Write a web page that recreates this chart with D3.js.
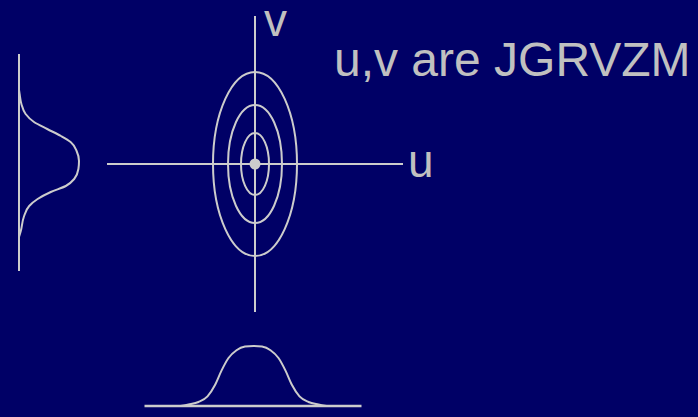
<!DOCTYPE html>
<html>
<head>
<meta charset="utf-8">
<script src="https://cdn.jsdelivr.net/npm/d3@7"></script>
<style>
  html, body { margin: 0; padding: 0; background: #000066; }
  svg { display: block; }
</style>
</head>
<body>
<div id="chart"></div>
<script>
// contour ellipses of the joint density (semi-axes, in u/v units)
var contourU = [1.4, 2.7, 4.2];
var contourV = [3.1, 5.9, 9.2];

// marginal density of u (bottom)
var uGrid = [-7.3, -6.5, -5.5, -4.6, -3.85, -3.2, -2.5, -1.7, -0.85, 0,
             0.85, 1.7, 2.5, 3.2, 3.85, 4.6, 5.5, 6.5, 7.3];
var uDens = [0, 0.025, 0.067, 0.16, 0.35, 0.59, 0.8, 0.93, 0.99, 1,
             0.99, 0.93, 0.8, 0.59, 0.35, 0.16, 0.067, 0.025, 0];

// marginal density of v (left)
var vGrid = [7.2, 6.8, 5.8, 4.8, 4.0, 3.3, 2.6, 2.0, 1.1, 0.1,
             -0.7, -1.7, -2.4, -3.0, -3.7, -4.4, -5.5, -6.9, -7.5];
var vDens = [0, 0.01, 0.04, 0.11, 0.25, 0.47, 0.7, 0.86, 0.96, 1,
             0.99, 0.92, 0.78, 0.53, 0.31, 0.17, 0.08, 0.03, 0];

var axisExtent = [-14.8, 14.8];
var margExtent = [-10.9, 10.8];

var title = "u,v are JGRVZM";
var labelU = "u", labelV = "v";

var width = 698, height = 417;
var ink = "#cccccc", textInk = "#c0c0c0";
var font = "'Liberation Sans', Arial, sans-serif";

var svg = d3.select("#chart")
  .append("svg")
    .attr("width", width)
    .attr("height", height);

svg.append("rect")
  .attr("width", width).attr("height", height)
  .attr("fill", "#000066");

// joint plot scales, 10px per unit
var x = d3.scaleLinear().domain([-1, 1]).range([255 - 10, 255 + 10]);
var y = d3.scaleLinear().domain([-1, 1]).range([164 + 10, 164 - 10]);

// axes
svg.append("line")
  .attr("x1", x(axisExtent[0])).attr("x2", x(axisExtent[1]))
  .attr("y1", y(0)).attr("y2", y(0))
  .attr("stroke", ink).attr("stroke-width", 2);
svg.append("line")
  .attr("x1", x(0)).attr("x2", x(0))
  .attr("y1", y(axisExtent[1])).attr("y2", y(axisExtent[0]))
  .attr("stroke", ink).attr("stroke-width", 2);

// contour ellipses
svg.selectAll("ellipse")
  .data(d3.range(contourU.length))
  .enter()
  .append("ellipse")
    .attr("cx", x(0))
    .attr("cy", y(0))
    .attr("rx", function(i) { return x(contourU[i]) - x(0); })
    .attr("ry", function(i) { return y(0) - y(contourV[i]); })
    .attr("fill", "none")
    .attr("stroke", ink)
    .attr("stroke-width", 2);

// mean point
svg.append("circle")
  .attr("cx", x(0)).attr("cy", y(0)).attr("r", 5.5)
  .attr("fill", ink);

// bottom marginal (u)
var mx = d3.scaleLinear().domain([-1, 1]).range([253.5 - 10, 253.5 + 10]);
var my = d3.scaleLinear().domain([0, 1]).range([406, 346]);

svg.append("line")
  .attr("x1", mx(margExtent[0])).attr("x2", mx(margExtent[1]))
  .attr("y1", my(0)).attr("y2", my(0))
  .attr("stroke", ink).attr("stroke-width", 2.5);

var lineU = d3.line()
  .x(function(i) { return mx(uGrid[i]); })
  .y(function(i) { return my(uDens[i]); })
  .curve(d3.curveMonotoneX);

svg.append("path")
  .attr("d", lineU(d3.range(uGrid.length)))
  .attr("fill", "none").attr("stroke", ink).attr("stroke-width", 2);

// left marginal (v)
var ly = d3.scaleLinear().domain([-1, 1]).range([162 + 10, 162 - 10]);
var lx = d3.scaleLinear().domain([0, 1]).range([19, 79]);

svg.append("line")
  .attr("x1", lx(0)).attr("x2", lx(0))
  .attr("y1", ly(margExtent[1])).attr("y2", ly(margExtent[0]))
  .attr("stroke", ink).attr("stroke-width", 2);

var lineV = d3.line()
  .x(function(i) { return lx(vDens[i]); })
  .y(function(i) { return ly(vGrid[i]); })
  .curve(d3.curveMonotoneY);

svg.append("path")
  .attr("d", lineV(d3.range(vGrid.length)))
  .attr("fill", "none").attr("stroke", ink).attr("stroke-width", 2);

// text
svg.append("text")
  .attr("x", 264).attr("y", 36)
  .attr("font-family", font).attr("font-size", 46)
  .attr("fill", textInk)
  .text(labelV);
svg.append("text")
  .attr("x", 408).attr("y", 177)
  .attr("font-family", font).attr("font-size", 46)
  .attr("fill", textInk)
  .text(labelU);
svg.append("text")
  .attr("x", 334).attr("y", 76)
  .attr("font-family", font).attr("font-size", 48)
  .attr("fill", textInk)
  .text(title);
</script>
</body>
</html>
